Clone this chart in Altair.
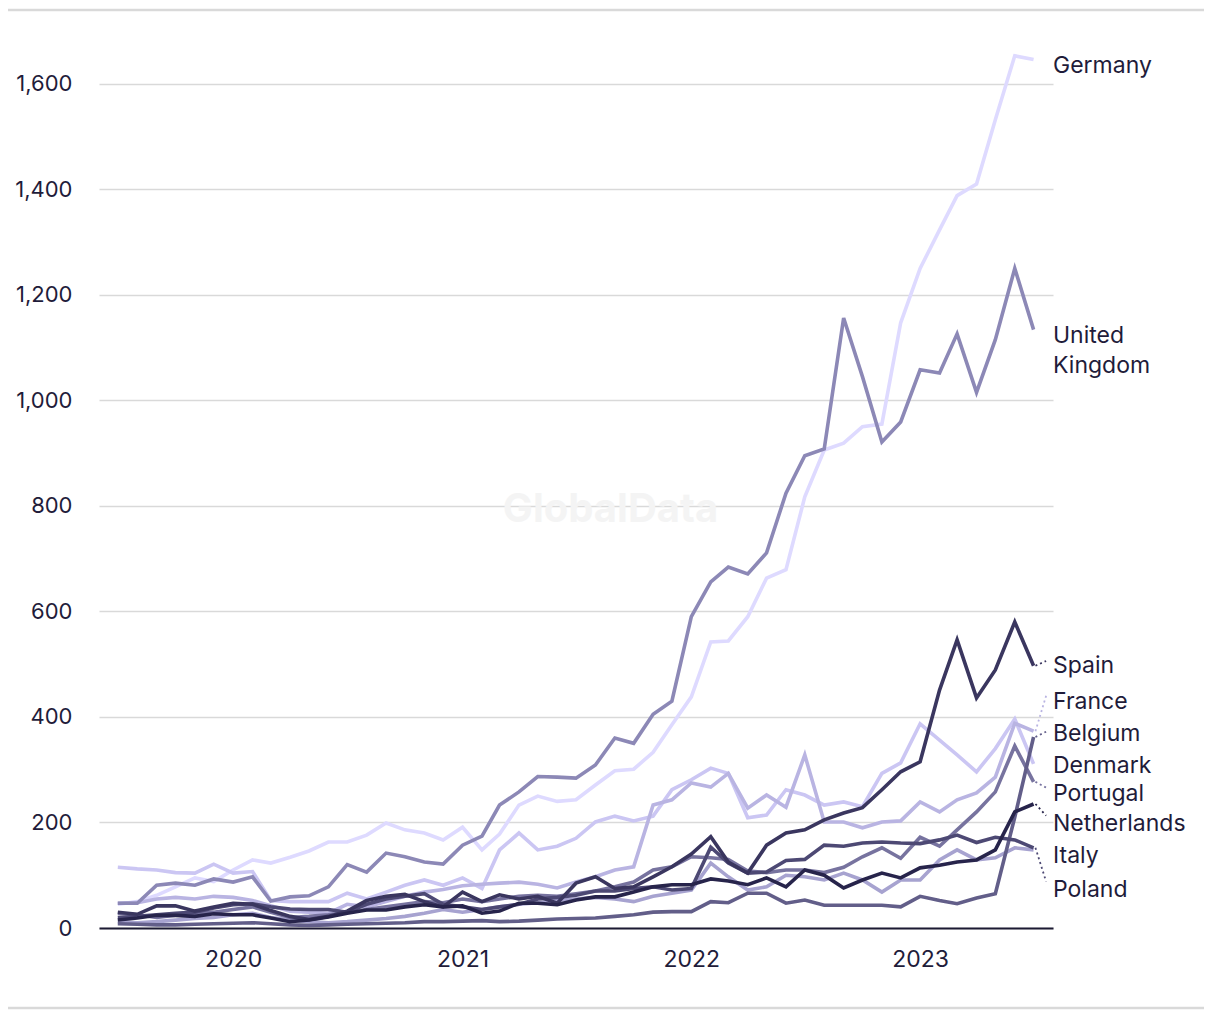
import altair as alt
import pandas as pd

months = pd.date_range("2019-07-01", periods=49, freq="MS").strftime("%Y-%m-%d").tolist()

germany = [45, 50, 62, 78, 95, 88, 110, 129, 123, 134, 146, 163, 163, 176, 199, 186, 180, 167, 191, 148,
           178, 233, 250, 240, 243, 271, 298, 301, 333, 385, 438, 542, 544, 590, 663, 679, 817, 906, 919, 950,
           955, 1147, 1250, 1323, 1388, 1410, 1532, 1653, 1646]
uk = [47, 47, 81, 85, 81, 93, 87, 97, 51, 59, 61, 78, 120, 106, 142, 135, 125, 121, 157, 174,
      233, 258, 287, 286, 284, 309, 360, 350, 405, 430, 590, 656, 684, 671, 711, 824, 895, 908, 1156, 1045,
      921, 959, 1058, 1052, 1126, 1015, 1115, 1250, 1134]
denmark = [115, 112, 110, 105, 104, 121, 104, 107, 52, 50, 50, 50, 66, 55, 68, 81, 91, 81, 95, 75,
           148, 180, 148, 155, 170, 201, 212, 203, 212, 262, 281, 303, 293, 209, 214, 262, 252, 233, 239, 230,
           293, 313, 387, 356, 328, 296, 340, 396, 311]
france = [47, 48, 55, 58, 55, 60, 58, 52, 42, 32, 30, 28, 45, 40, 50, 60, 68, 73, 80, 83,
          85, 87, 83, 76, 87, 97, 110, 116, 233, 243, 275, 267, 293, 227, 252, 229, 328, 201, 201, 190,
          201, 203, 239, 220, 243, 256, 286, 388, 373]
italy = [12, 10, 12, 15, 18, 20, 25, 28, 20, 15, 12, 10, 12, 15, 18, 22, 28, 35, 30, 35,
         40, 45, 48, 52, 55, 58, 55, 50, 60, 66, 72, 123, 97, 72, 78, 100, 97, 91, 104, 91,
         68, 91, 91, 129, 148, 129, 133, 152, 148]
portugal = [28, 25, 20, 24, 28, 30, 35, 40, 30, 20, 22, 25, 30, 35, 40, 45, 50, 48, 55, 50,
            55, 60, 62, 60, 65, 70, 78, 87, 110, 116, 135, 133, 130, 108, 105, 110, 110, 105, 115, 135,
            152, 132, 172, 155, 186, 220, 258, 345, 277]
belgium = [8, 7, 6, 6, 7, 8, 9, 10, 8, 6, 5, 6, 7, 8, 9, 10, 12, 12, 13, 14,
           12, 13, 15, 17, 18, 19, 22, 25, 30, 31, 31, 50, 48, 66, 66, 47, 53, 43, 43, 43,
           43, 40, 60, 52, 46, 57, 65, 210, 362]
poland = [20, 22, 25, 28, 30, 38, 44, 46, 40, 36, 35, 35, 30, 45, 55, 60, 65, 45, 40, 35,
          40, 45, 55, 58, 62, 70, 70, 75, 78, 72, 75, 153, 123, 104, 106, 128, 130, 157, 155, 161,
          163, 161, 160, 167, 176, 162, 172, 167, 152]
spain = [30, 26, 42, 42, 32, 40, 47, 45, 33, 22, 16, 22, 32, 52, 60, 64, 50, 40, 68, 50,
         63, 55, 60, 47, 85, 97, 75, 78, 97, 116, 140, 173, 125, 104, 157, 180, 186, 205, 218, 228,
         262, 296, 315, 451, 546, 436, 489, 580, 497]
netherlands = [15, 19, 24, 24, 22, 27, 25, 25, 19, 12, 15, 21, 28, 34, 34, 40, 44, 40, 42, 28,
               32, 47, 47, 44, 53, 59, 59, 68, 78, 82, 82, 93, 89, 82, 95, 78, 110, 100, 76, 91,
               104, 95, 114, 119, 125, 129, 148, 220, 235]

# drawing order: lightest first
countries = ["Germany", "Denmark", "France", "Italy", "United Kingdom", "Portugal",
             "Belgium", "Poland", "Spain", "Netherlands"]
series = {"Germany": germany, "Denmark": denmark, "France": france, "Italy": italy,
          "United Kingdom": uk, "Portugal": portugal, "Belgium": belgium, "Poland": poland,
          "Spain": spain, "Netherlands": netherlands}
colors = {"Germany": "#dedaff", "Denmark": "#cbc6f3", "France": "#b9b4e2", "Italy": "#a7a3d0",
          "United Kingdom": "#8c88b6", "Portugal": "#77739f", "Belgium": "#625e89",
          "Poland": "#4d4974", "Spain": "#3a365f", "Netherlands": "#27244b"}

label_texts = ["Germany", "United", "Kingdom", "Spain", "France", "Belgium", "Denmark",
               "Portugal", "Netherlands", "Italy", "Poland"]
label_values = [1634, 1122, 1065, 497, 428, 368, 307, 254, 197, 136, 72]

conn_countries = ["Spain", "France", "Belgium", "Portugal", "Netherlands", "Poland"]
conn_start = [497, 373, 362, 277, 235, 152]
conn_end = [506, 440, 372, 266, 213, 88]

rows = []
for c in countries:
    for d, v in zip(months, series[c]):
        rows.append({"date": d, "value": v, "country": c})
df = pd.DataFrame(rows)

FONT = "Inter"
TEXT_COLOR = "#1f1c3a"

x_enc = alt.X("date:T", title=None,
              scale=alt.Scale(domain=[alt.DateTime(year=2019, month=6, date=1),
                                      alt.DateTime(year=2023, month=8, date=1)]),
              axis=alt.Axis(values=[alt.DateTime(year=y, month=1, date=1) for y in [2020, 2021, 2022, 2023]],
                            format="%Y", grid=False, ticks=False, domain=True,
                            domainColor="#1c1a33", domainWidth=2,
                            labelFont=FONT, labelFontSize=23, labelColor=TEXT_COLOR,
                            labelPadding=20))
y_enc = alt.Y("value:Q", title=None,
              scale=alt.Scale(domain=[0, 1700], nice=False),
              axis=alt.Axis(values=[0, 200, 400, 600, 800, 1000, 1200, 1400, 1600], format=",.0f",
                            domain=False, ticks=False, grid=True, gridColor="#d9d9d9", gridWidth=1.5,
                            labelFont=FONT, labelFontSize=22, labelColor=TEXT_COLOR,
                            labelPadding=27))

# watermark
wm = alt.Chart(pd.DataFrame({"t": ["GlobalData"]})).mark_text(
    font=FONT, fontSize=40, fontWeight="bold", color="#f4f4f4"
).encode(x=alt.datum(alt.DateTime(year=2021, month=8, date=25)), y=alt.datum(792), text="t:N")

base_lines = []
for c in countries:
    base_lines.append(
        alt.Chart(df[df["country"] == c]).mark_line(color=colors[c], strokeWidth=3.6).encode(
            x=x_enc, y=y_enc)
    )

labels_df = pd.DataFrame({"text": label_texts, "value": label_values,
                          "date": ["2023-08-01"] * len(label_texts)})
labels = alt.Chart(labels_df).mark_text(
    align="left", baseline="middle", font=FONT, fontSize=23, color=TEXT_COLOR
).encode(x="date:T", y="value:Q", text="text:N")

conn_df = pd.DataFrame({"country": conn_countries, "v1": conn_start, "v2": conn_end,
                        "d1": ["2023-07-04"] * len(conn_countries),
                        "d2": ["2023-07-21"] * len(conn_countries)})
conns = alt.Chart(conn_df).mark_rule(strokeDash=[2, 3], strokeWidth=1.8).encode(
    x="d1:T", x2="d2:T", y="v1:Q", y2="v2:Q",
    color=alt.Color("country:N", legend=None,
                    scale=alt.Scale(domain=conn_countries, range=[colors[c] for c in conn_countries]))
)

top_rule = alt.Chart(pd.DataFrame({"a": [0]})).mark_rule(color="#d9d9d9", strokeWidth=2.5).encode(
    x=alt.value(-91), x2=alt.value(1105), y=alt.value(-21))
bottom_rule = alt.Chart(pd.DataFrame({"a": [0]})).mark_rule(color="#d9d9d9", strokeWidth=2.5).encode(
    x=alt.value(-91), x2=alt.value(1105), y=alt.value(977))

chart = alt.layer(wm, *base_lines, conns, labels, top_rule, bottom_rule).properties(
    width=954, height=897,
    autosize=alt.AutoSizeParams(type="none"),
    padding={"left": 91, "top": 23, "right": 159, "bottom": 84},
).configure_view(stroke=None)

chart.save("out.html", embed_options={"renderer": "svg", "actions": False})
